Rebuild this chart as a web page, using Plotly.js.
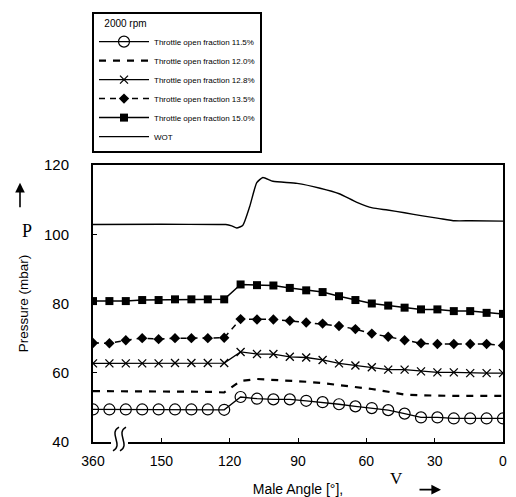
<!DOCTYPE html>
<html>
<head>
<meta charset="utf-8">
<script src="https://cdn.plot.ly/plotly-3.0.1.min.js"></script>
<style>html,body{margin:0;padding:0;background:#fff;}#chart{width:516px;height:497px;}</style>
</head>
<body>
<div id="chart"></div>
<script>
// Axis positions (broken axis: the left-most point stands for 360°)
const anglePos = [180,172.8,165.6,158.4,151.2,144,136.8,129.6,122.4,115.2,108,100.8,93.6,86.4,79.2,72,64.8,57.6,50.4,43.2,36,28.8,21.6,14.4,7.2,0];
const tickVals = [180,150,120,90,60,30,0];
const tickText = ["360","150","120","90","60","30","0"];

const throttle115 = [49.4,49.4,49.4,49.4,49.4,49.4,49.4,49.4,49.3,53.0,52.5,52.3,52.3,51.9,51.5,50.9,50.3,49.8,49.2,48.2,47.1,47.1,46.8,46.8,46.8,46.8];
const throttle120 = [54.7,54.7,54.7,54.7,54.7,54.7,54.6,54.5,54.3,57.6,58.2,58.0,57.8,57.4,57.0,56.5,55.9,55.3,54.5,53.7,53.5,53.3,53.3,53.3,53.3,53.3];
const throttle128 = [62.7,62.7,62.7,62.7,62.7,62.8,62.8,62.8,62.8,66.0,65.4,65.4,64.6,64.4,63.7,62.7,62.1,61.6,60.9,60.9,60.4,60.1,60.1,59.9,59.9,59.9];
const throttle135 = [68.6,68.5,69.4,70.0,69.7,70.0,70.0,70.0,70.1,75.5,75.4,75.4,75.0,74.5,74.2,73.5,72.6,71.3,70.4,69.4,68.5,68.3,68.3,68.3,68.3,67.9];
const throttle150 = [80.7,80.7,80.7,81.0,81.0,81.2,81.2,81.2,81.2,85.5,85.3,85.2,84.5,83.8,83.3,82.1,81.0,80.0,79.4,78.8,78.3,78.3,77.8,77.8,77.3,77.0];

const wotPos = [180,150,125,121.7,119.1,116.9,114.2,111.2,108.1,105.4,101,90.4,80.3,71.9,64.4,57.3,50.7,43.2,35.3,28.2,21.2,14.1,0];
const wotVal = [102.8,102.9,102.8,102.8,102.4,101.8,102.6,108.0,114.9,116.4,115.3,114.7,113.3,111.7,109.3,107.6,107.0,106.2,105.3,104.6,103.9,103.9,103.8];

const seriesNames = ["Throttle open fraction 11.5%","Throttle open fraction 12.0%","Throttle open fraction 12.8%","Throttle open fraction 13.5%","Throttle open fraction 15.0%","WOT"];

const traces = [
  {x: anglePos, y: throttle115, name: seriesNames[0], mode: "lines+markers",
   line: {color: "#000", width: 1.3}, marker: {symbol: "circle-open", size: 11, color: "#000", line: {width: 1.2, color: "#000"}}},
  {x: anglePos, y: throttle120, name: seriesNames[1], mode: "lines",
   line: {color: "#000", width: 2.2, dash: "7px,7px"}},
  {x: anglePos, y: throttle128, name: seriesNames[2], mode: "lines+markers",
   line: {color: "#000", width: 1.3}, marker: {symbol: "x-thin-open", size: 8, color: "#000", line: {width: 1.3, color: "#000"}}},
  {x: anglePos, y: throttle135, name: seriesNames[3], mode: "lines+markers",
   line: {color: "#000", width: 1.5, dash: "6px,5px"}, marker: {symbol: "diamond", size: 8, color: "#000"}},
  {x: anglePos, y: throttle150, name: seriesNames[4], mode: "lines+markers",
   line: {color: "#000", width: 1.5}, marker: {symbol: "square", size: 8, color: "#000"}},
  {x: wotPos, y: wotVal, name: seriesNames[5], mode: "lines", line: {color: "#000", width: 1.4, shape: "spline", smoothing: 0.5}}
];

// helpers for decorations (paper coordinates from pixel positions)
const L = 93, R = 503, T = 163, B = 442;
const px = p => (p - L) / (R - L);
const py = p => (B - p) / (B - T);
function squiggle(cx) {
  return "M " + px(cx - 3) + "," + py(451) +
    " C " + px(cx + 8) + "," + py(445) + " " + px(cx - 8) + "," + py(433) + " " + px(cx + 3) + "," + py(427);
}

const layout = {
  width: 516, height: 497,
  margin: {l: L, r: 516 - R, t: T, b: 497 - B},
  paper_bgcolor: "#fff", plot_bgcolor: "#fff",
  font: {family: "Arial, 'Liberation Sans', sans-serif", color: "#000"},
  showlegend: true,
  legend: {
    x: px(92), y: py(9), xanchor: "left", yanchor: "top",
    bordercolor: "#000", borderwidth: 2, bgcolor: "#fff",
    font: {size: 8, color: "#000"}, itemwidth: 50,
    title: {text: "\u00a0\u00a0\u00a02000 rpm", font: {size: 10, color: "#000"}},
    tracegroupgap: 0
  },
  xaxis: {
    range: [180, 0], tickvals: tickVals, ticktext: tickText,
    ticks: "inside", ticklen: 4, tickcolor: "#000", tickwidth: 1,
    showline: true, linecolor: "#000", linewidth: 2, mirror: true,
    showgrid: false, zeroline: false,
    tickfont: {size: 14, color: "#000"}, ticklabelstandoff: 5,
    title: {text: "Male Angle [°],", font: {size: 14, color: "#000"}, standoff: 16}
  },
  yaxis: {
    range: [40, 120], tickvals: [40,60,80,100,120],
    ticks: "inside", ticklen: 4, tickcolor: "#000", tickwidth: 1,
    showline: true, linecolor: "#000", linewidth: 2, mirror: true,
    showgrid: false, zeroline: false,
    tickfont: {size: 15, color: "#000"}, ticklabelstandoff: 19,
    title: {text: "Pressure (mbar)", font: {size: 13.5, color: "#000"}, standoff: 12}
  },
  shapes: [
    {type: "rect", xref: "paper", yref: "paper", x0: px(111), x1: px(128), y0: py(445), y1: py(439),
     fillcolor: "#fff", line: {width: 0}, layer: "above"},
    {type: "path", xref: "paper", yref: "paper", path: squiggle(116), line: {color: "#000", width: 1.5}, layer: "above"},
    {type: "path", xref: "paper", yref: "paper", path: squiggle(123), line: {color: "#000", width: 1.5}, layer: "above"}
  ],
  annotations: [
    {xref: "paper", yref: "paper", x: px(20), y: py(217), text: "P", showarrow: false,
     font: {family: "'Liberation Serif', 'DejaVu Serif', serif", size: 18, color: "#000"}},
    {xref: "paper", yref: "paper", x: px(20), y: py(181), ax: 0, ay: 26, text: "", showarrow: true,
     arrowhead: 2, arrowsize: 1.2, arrowwidth: 1.6, arrowcolor: "#000"},
    {xref: "paper", yref: "paper", x: px(405), y: py(490), text: "V", showarrow: false,
     font: {family: "'Liberation Serif', 'DejaVu Serif', serif", size: 17, color: "#000"}},
    {xref: "paper", yref: "paper", x: px(441), y: py(490), ax: -23, ay: 0, text: "", showarrow: true,
     arrowhead: 2, arrowsize: 1.2, arrowwidth: 1.6, arrowcolor: "#000"}
  ]
};

Plotly.newPlot("chart", traces, layout, {displayModeBar: false, staticPlot: true});
</script>
</body>
</html>
